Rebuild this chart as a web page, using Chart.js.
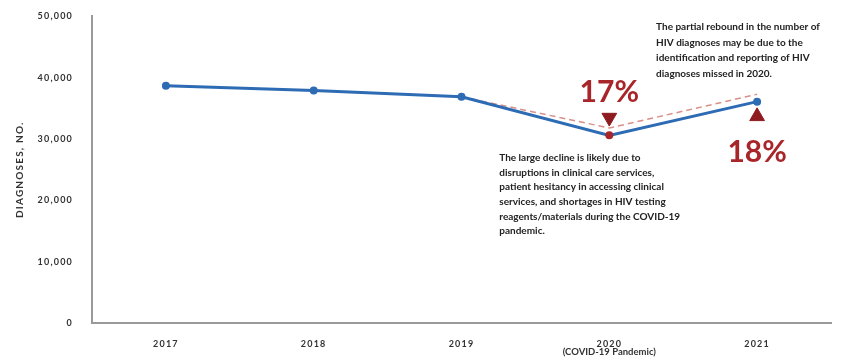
<!DOCTYPE html>
<html lang="en">
  <head>
    <meta charset="UTF-8" />
    <title>HIV diagnoses</title>
    <style>
      html, body { margin: 0; padding: 0; background: #fff; }
      .wrap { width: 856px; height: 363px; }
    </style>
  </head>
  <body>
    <div class="wrap"><canvas id="myChart" width="856" height="363"></canvas></div>
    <script src="https://cdn.jsdelivr.net/npm/chart.js@4.4.0/dist/chart.umd.min.js"></script>
    <script>
      // data
      const years = ["2017", "2018", "2019", "2020", "2021"];
      const subLabels = ["", "", "", "(COVID-19 Pandemic)", ""];
      const diagnoses = [38700, 37900, 36900, 30600, 36100];
      const expectedTrend = [null, null, 36900, 31800, 37300];
      const dropMarker = [null, null, null, 33500, null];
      const riseMarker = [null, null, null, null, 33700];
      const changeLabels = ["", "", "", "17%", "18%"];
      const yMax = 50000;
      const yStep = 10000;

      const noteDecline = [
        "The large decline is likely due to",
        "disruptions in clinical care services,",
        "patient hesitancy in accessing clinical",
        "services, and shortages in HIV testing",
        "reagents/materials during the COVID-19",
        "pandemic.",
      ];
      const noteRebound = [
        "The partial rebound in the number of",
        "HIV diagnoses may be due to the",
        "identification and reporting of HIV",
        "diagnoses missed in 2020.",
      ];

      const blue = "#2d6bb4";
      const red = "#a8262a";
      const textGray = "#333";

      // spaced-out axis lettering like the original
      const spacingPlugin = {
        id: "spacing",
        beforeDraw(chart) {
          chart.ctx.letterSpacing = "1.2px";
        },
      };

      // annotations: % labels, notes, sub label under 2020
      const notesPlugin = {
        id: "notes",
        afterDraw(chart) {
          const ctx = chart.ctx;
          const x = chart.scales.x;
          const y = chart.scales.y;
          ctx.save();
          ctx.letterSpacing = "0px";
          ctx.textAlign = "center";
          ctx.textBaseline = "middle";
          ctx.fillStyle = red;
          ctx.font = "bold 30px Lato";
          ctx.fillText(changeLabels[3], x.getPixelForValue(3), y.getPixelForValue(dropMarker[3]) - 25);
          ctx.fillText(changeLabels[4], x.getPixelForValue(4), y.getPixelForValue(riseMarker[4]) + 36);

          ctx.fillStyle = "#222";
          ctx.textAlign = "left";
          ctx.font = "bold 10px Lato";
          const x20 = x.getPixelForValue(3);
          noteDecline.forEach((t, i) => ctx.fillText(t, x20 - 110, 158 + i * 14.6));
          const x21 = x.getPixelForValue(4);
          noteRebound.forEach((t, i) => ctx.fillText(t, x21 - 101, 27 + i * 15.5));

          ctx.textAlign = "center";
          ctx.fillStyle = textGray;
          ctx.font = "bold 9.5px Lato";
          subLabels.forEach((t, i) => {
            if (t) ctx.fillText(t, x.getPixelForValue(i), 352);
          });
          ctx.restore();
        },
      };

      const myChart = new Chart(document.getElementById("myChart"), {
        type: "line",
        data: {
          labels: years,
          datasets: [
            {
              label: "trend",
              data: expectedTrend,
              borderColor: "#d98f88",
              borderWidth: 1.5,
              borderDash: [6, 4],
              pointRadius: 0,
              fill: false,
              order: 3,
            },
            {
              label: "Diagnoses",
              data: diagnoses,
              borderColor: blue,
              borderWidth: 3,
              pointRadius: 2.5,
              pointBackgroundColor: [blue, blue, blue, red, blue],
              pointBorderColor: [blue, blue, blue, red, blue],
              fill: false,
              order: 2,
            },
            {
              label: "drop",
              data: dropMarker,
              showLine: false,
              pointStyle: "triangle",
              rotation: 180,
              pointRadius: 8.5,
              pointBackgroundColor: "#8e1b1f",
              pointBorderColor: "#8e1b1f",
              order: 1,
            },
            {
              label: "rise",
              data: riseMarker,
              showLine: false,
              pointStyle: "triangle",
              pointRadius: 8.5,
              pointBackgroundColor: "#8e1b1f",
              pointBorderColor: "#8e1b1f",
              order: 1,
            },
          ],
        },
        options: {
          responsive: false,
          animation: false,
          layout: { padding: { top: 16, right: 25, left: 14, bottom: 0 } },
          plugins: {
            legend: { display: false },
            tooltip: { enabled: false },
          },
          scales: {
            x: {
              offset: true,
              grid: { display: false },
              border: { display: true, color: "#9a9a9a", width: 2 },
              ticks: {
                color: textGray,
                font: { family: "Lato", weight: "bold", size: 9 },
                padding: 8,
              },
              afterFit(scale) {
                scale.height = 40;
              },
            },
            y: {
              min: 0,
              max: yMax,
              grid: { display: false },
              border: { display: true, color: "#9a9a9a", width: 2 },
              ticks: {
                stepSize: yStep,
                color: textGray,
                font: { family: "Lato", weight: "bold", size: 9 },
                padding: 11,
                callback: (v) => v.toLocaleString("en-US"),
              },
              title: {
                display: true,
                text: "DIAGNOSES, NO.",
                color: textGray,
                font: { family: "Lato", weight: "bold", size: 10 },
                padding: { top: 0, bottom: 4 },
              },
              afterFit(scale) {
                scale.width = 78;
              },
            },
          },
        },
        plugins: [spacingPlugin, notesPlugin],
      });
    </script>
  </body>
</html>
